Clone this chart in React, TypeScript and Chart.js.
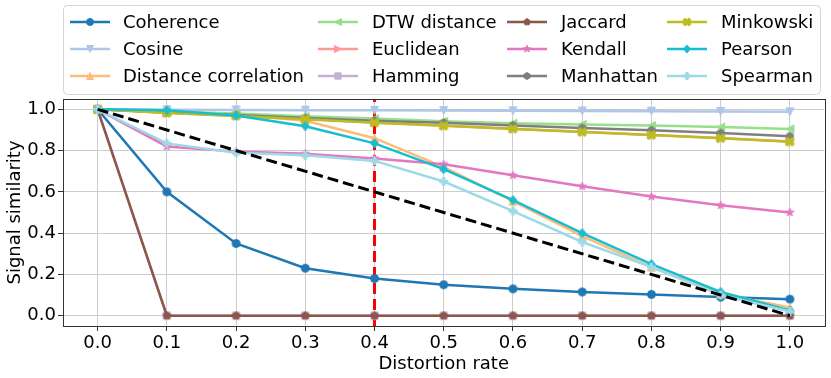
import React, { useEffect, useRef } from "react";
import { Chart, registerables } from "chart.js";

Chart.register(...registerables);

// ---------- data ----------
const distortionRates = [0.0, 0.1, 0.2, 0.3, 0.4, 0.5, 0.6, 0.7, 0.8, 0.9, 1.0];
const xTickValues = [0.0, 0.1, 0.2, 0.3, 0.4, 0.5, 0.6, 0.7, 0.8, 0.9, 1.0];
const yTickValues = [0.0, 0.2, 0.4, 0.6, 0.8, 1.0];

const coherence = [1.0, 0.6, 0.35, 0.23, 0.18, 0.15, 0.13, 0.115, 0.103, 0.09, 0.08];
const cosine = [1.0, 0.998, 0.997, 0.996, 0.995, 0.994, 0.993, 0.992, 0.991, 0.99, 0.988];
const distanceCorrelation = [1.0, 0.988, 0.975, 0.945, 0.86, 0.72, 0.555, 0.385, 0.235, 0.105, 0.04];
const dtwDistance = [1.0, 0.99, 0.98, 0.966, 0.955, 0.942, 0.933, 0.927, 0.921, 0.914, 0.905];
const euclidean = [1.0, 0.983, 0.969, 0.953, 0.936, 0.921, 0.906, 0.891, 0.876, 0.861, 0.844];
const hamming = [1.0, 0.0, 0.0, 0.0, 0.0, 0.0, 0.0, 0.0, 0.0, 0.0, 0.0];
const jaccard = [1.0, 0.0, 0.0, 0.0, 0.0, 0.0, 0.0, 0.0, 0.0, 0.0, 0.0];
const kendall = [1.0, 0.82, 0.795, 0.785, 0.762, 0.734, 0.68, 0.627, 0.577, 0.535, 0.5];
const manhattan = [1.0, 0.985, 0.972, 0.958, 0.945, 0.935, 0.922, 0.91, 0.898, 0.885, 0.87];
const minkowski = [1.0, 0.982, 0.968, 0.952, 0.935, 0.92, 0.905, 0.89, 0.875, 0.86, 0.843];
const pearson = [1.0, 0.995, 0.97, 0.918, 0.835, 0.71, 0.56, 0.4, 0.25, 0.115, 0.025];
const spearman = [1.0, 0.835, 0.79, 0.777, 0.75, 0.65, 0.507, 0.357, 0.235, 0.1, 0.02];

const seriesNames = [
  "Coherence", "Cosine", "Distance correlation", "DTW distance", "Euclidean", "Hamming",
  "Jaccard", "Kendall", "Manhattan", "Minkowski", "Pearson", "Spearman",
];
const seriesValues = [
  coherence, cosine, distanceCorrelation, dtwDistance, euclidean, hamming,
  jaccard, kendall, manhattan, minkowski, pearson, spearman,
];
const seriesColors = [
  "#1f77b4", "#aec7e8", "#ffbb78", "#98df8a", "#ff9896", "#c5b0d5",
  "#8c564b", "#e377c2", "#7f7f7f", "#bcbd22", "#17becf", "#9edae5",
];
const seriesMarkers = ["o", "v", "^", "<", ">", "s", "p", "*", "h", "X", "D", "P"];

// reference diagonal and threshold
const referenceX = [0.0, 1.0];
const referenceY = [1.0, 0.0];
const thresholdRate = 0.4;

const X_MIN = -0.05, X_MAX = 1.05, Y_MIN = -0.05, Y_MAX = 1.05;
const FONT = "'DejaVu Sans', sans-serif";

// ---------- marker images ----------
function polygon(ctx: CanvasRenderingContext2D, pts: number[][]) {
  ctx.beginPath();
  pts.forEach((p, i) => (i === 0 ? ctx.moveTo(p[0], p[1]) : ctx.lineTo(p[0], p[1])));
  ctx.closePath();
}

function makeMarker(shape: string, color: string, ms: number): HTMLCanvasElement {
  const S = Math.ceil(ms * 1.6) + 2;
  const c = document.createElement("canvas");
  c.width = S;
  c.height = S;
  const ctx = c.getContext("2d")!;
  ctx.translate(S / 2, S / 2);
  const r = ms / 2;
  ctx.fillStyle = color;
  ctx.strokeStyle = color;
  ctx.lineWidth = 1;
  ctx.lineJoin = "miter";
  const regular = (n: number, rad: number, rot: number) => {
    const pts: number[][] = [];
    for (let i = 0; i < n; i++) {
      const a = rot + (i * 2 * Math.PI) / n;
      pts.push([rad * Math.sin(a), -rad * Math.cos(a)]);
    }
    return pts;
  };
  switch (shape) {
    case "o":
      ctx.beginPath();
      ctx.arc(0, 0, r, 0, Math.PI * 2);
      break;
    case "v":
      polygon(ctx, [[0, r], [-r, -r], [r, -r]]);
      break;
    case "^":
      polygon(ctx, [[0, -r], [-r, r], [r, r]]);
      break;
    case "<":
      polygon(ctx, [[-r, 0], [r, -r], [r, r]]);
      break;
    case ">":
      polygon(ctx, [[r, 0], [-r, -r], [-r, r]]);
      break;
    case "s":
      polygon(ctx, [[-r * 0.9, -r * 0.9], [r * 0.9, -r * 0.9], [r * 0.9, r * 0.9], [-r * 0.9, r * 0.9]]);
      break;
    case "p":
      polygon(ctx, regular(5, r, 0));
      break;
    case "h":
      polygon(ctx, regular(6, r, 0));
      break;
    case "*": {
      const pts: number[][] = [];
      for (let i = 0; i < 10; i++) {
        const a = (i * Math.PI) / 5;
        const rad = i % 2 === 0 ? r * 1.1 : r * 0.42;
        pts.push([rad * Math.sin(a), -rad * Math.cos(a)]);
      }
      polygon(ctx, pts);
      break;
    }
    case "D": {
      const d = r * 1.15;
      polygon(ctx, [[0, -d], [d * 0.85, 0], [0, d], [-d * 0.85, 0]]);
      break;
    }
    case "P": {
      const a = r, b = r / 3;
      polygon(ctx, [
        [-b, -a], [b, -a], [b, -b], [a, -b], [a, b], [b, b],
        [b, a], [-b, a], [-b, b], [-a, b], [-a, -b], [-b, -b],
      ]);
      break;
    }
    case "X": {
      ctx.rotate(Math.PI / 4);
      const a = r * 1.15, b = r / 2.6;
      polygon(ctx, [
        [-b, -a], [b, -a], [b, -b], [a, -b], [a, b], [b, b],
        [b, a], [-b, a], [-b, b], [-a, b], [-a, -b], [-b, -b],
      ]);
      break;
    }
  }
  ctx.fill();
  ctx.stroke();
  return c;
}

// ---------- plugins ----------
const framePlugin = {
  id: "mplFrame",
  afterDraw(chart: any) {
    const { ctx, chartArea: a } = chart;
    ctx.save();
    ctx.strokeStyle = "#333333";
    ctx.lineWidth = 1;
    ctx.strokeRect(Math.round(a.left) + 0.5, Math.round(a.top) + 0.5, Math.round(a.right - a.left), Math.round(a.bottom - a.top));
    ctx.restore();
  },
};

function makeLegendPlugin(markers: HTMLCanvasElement[]) {
  return {
    id: "mplLegend",
    afterDraw(chart: any) {
      const ctx = chart.ctx as CanvasRenderingContext2D;
      ctx.save();
      const bx = 63.5, by = 5.5, bw = 757, bh = 89, rr = 4;
      ctx.beginPath();
      ctx.moveTo(bx + rr, by);
      ctx.lineTo(bx + bw - rr, by);
      ctx.quadraticCurveTo(bx + bw, by, bx + bw, by + rr);
      ctx.lineTo(bx + bw, by + bh - rr);
      ctx.quadraticCurveTo(bx + bw, by + bh, bx + bw - rr, by + bh);
      ctx.lineTo(bx + rr, by + bh);
      ctx.quadraticCurveTo(bx, by + bh, bx, by + bh - rr);
      ctx.lineTo(bx, by + rr);
      ctx.quadraticCurveTo(bx, by, bx + rr, by);
      ctx.closePath();
      ctx.fillStyle = "rgba(255,255,255,0.8)";
      ctx.fill();
      ctx.strokeStyle = "#d5d5d5";
      ctx.lineWidth = 1;
      ctx.stroke();

      const handleX = [70, 318, 507, 667];
      const textX = [123, 372, 561, 721];
      const rowY = [22, 49, 76];
      ctx.font = `18px ${FONT}`;
      ctx.textBaseline = "middle";
      ctx.textAlign = "left";
      seriesNames.forEach((name, i) => {
        const col = Math.floor(i / 3);
        const row = i % 3;
        const y = rowY[row];
        const x0 = handleX[col];
        ctx.strokeStyle = seriesColors[i];
        ctx.lineWidth = 2.5;
        ctx.beginPath();
        ctx.moveTo(x0, y);
        ctx.lineTo(x0 + 40, y);
        ctx.stroke();
        const m = markers[i];
        ctx.drawImage(m, x0 + 20 - m.width / 2, y - m.height / 2);
        ctx.fillStyle = "#000000";
        ctx.fillText(name, textX[col], y + 1);
      });
      ctx.restore();
    },
  };
}

export default function App() {
  const canvasRef = useRef<HTMLCanvasElement | null>(null);

  useEffect(() => {
    document.body.style.margin = "0";
    const canvas = canvasRef.current;
    if (!canvas) return;

    const plotMarkers = seriesMarkers.map((m, i) => makeMarker(m, seriesColors[i], 8));
    const legendMarkers = seriesMarkers.map((m, i) => makeMarker(m, seriesColors[i], 7));

    const n = seriesNames.length;
    const datasets: any[] = [];

    datasets.push({
      label: "threshold",
      data: [{ x: thresholdRate, y: Y_MIN }, { x: thresholdRate, y: Y_MAX }],
      borderColor: "#ff0000",
      borderWidth: 3,
      borderDash: [11, 5],
      pointRadius: 0,
      order: n + 2,
    });

    seriesNames.forEach((name, i) => {
      datasets.push({
        label: name,
        data: distortionRates.map((x, k) => ({ x, y: seriesValues[i][k] })),
        borderColor: seriesColors[i],
        backgroundColor: seriesColors[i],
        borderWidth: 2.5,
        pointStyle: plotMarkers[i],
        pointRadius: 4,
        order: n + 1 - i,
      });
    });

    datasets.push({
      label: "reference",
      data: referenceX.map((x, k) => ({ x, y: referenceY[k] })),
      borderColor: "#000000",
      borderWidth: 3,
      borderDash: [11, 5],
      pointRadius: 0,
      order: 0,
    });

    const chart = new Chart(canvas, {
      type: "line",
      data: { datasets },
      options: {
        animation: false,
        responsive: false,
        devicePixelRatio: 1,
        parsing: false as any,
        layout: { padding: { top: 99, right: 5, left: 0, bottom: 0 } },
        plugins: {
          legend: { display: false },
          tooltip: { enabled: false },
        },
        elements: { line: { tension: 0 } },
        scales: {
          x: {
            type: "linear",
            min: X_MIN,
            max: X_MAX,
            afterBuildTicks: (scale: any) => {
              scale.ticks = xTickValues.map((v) => ({ value: v }));
            },
            afterFit: (scale: any) => {
              scale.height = 52;
            },
            ticks: {
              callback: (v: any) => Number(v).toFixed(1),
              font: { family: FONT, size: 18 },
              color: "#000000",
              padding: 2,
              maxRotation: 0,
              autoSkip: false,
            },
            grid: {
              color: "#cccccc",
              lineWidth: 1,
              tickLength: 5,
              tickColor: "#333333",
            },
            border: { display: false },
            title: {
              display: true,
              text: "Distortion rate",
              font: { family: FONT, size: 18 },
              color: "#000000",
              padding: { top: 0, bottom: 3 },
            },
          },
          y: {
            type: "linear",
            min: Y_MIN,
            max: Y_MAX,
            afterBuildTicks: (scale: any) => {
              scale.ticks = yTickValues.map((v) => ({ value: v }));
            },
            afterFit: (scale: any) => {
              scale.width = 63;
            },
            ticks: {
              callback: (v: any) => Number(v).toFixed(1),
              font: { family: FONT, size: 18 },
              color: "#000000",
              padding: 2,
              autoSkip: false,
            },
            grid: {
              color: "#cccccc",
              lineWidth: 1,
              tickLength: 5,
              tickColor: "#333333",
            },
            border: { display: false },
            title: {
              display: true,
              text: "Signal similarity",
              font: { family: FONT, size: 18 },
              color: "#000000",
              padding: { top: 5, bottom: 0 },
            },
          },
        },
      },
      plugins: [framePlugin, makeLegendPlugin(legendMarkers)],
    });

    return () => chart.destroy();
  }, []);

  return (
    <div style={{ width: 831, height: 378 }}>
      <canvas ref={canvasRef} width={831} height={378} style={{ display: "block", width: 831, height: 378 }} />
    </div>
  );
}
